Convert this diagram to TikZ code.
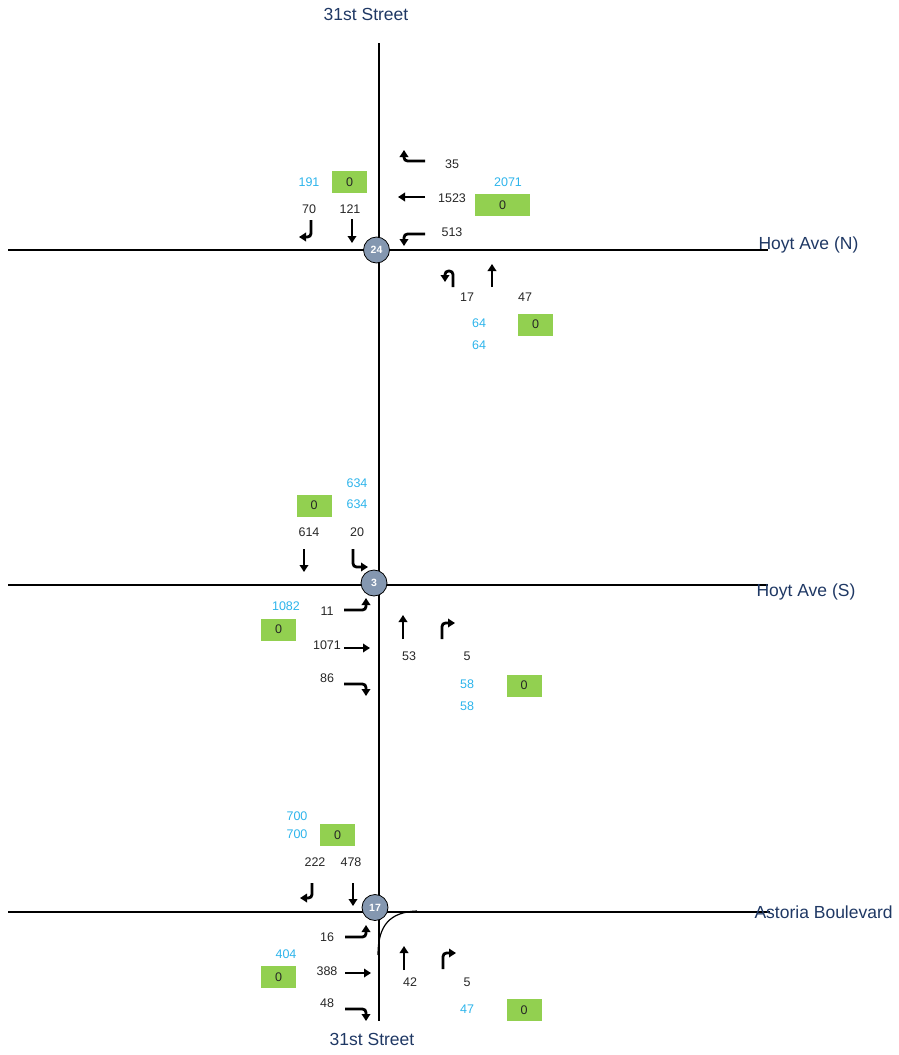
\documentclass[tikz,border=0pt]{standalone}
\usepackage{fontspec}
\setmainfont{Liberation Sans}
\usepackage{tikz}
\usetikzlibrary{arrows.meta}

\definecolor{roadblue}{RGB}{31,56,100}
\definecolor{volblue}{RGB}{45,180,235}
\definecolor{boxgreen}{RGB}{146,208,80}
\definecolor{juncgray}{RGB}{132,151,176}
\definecolor{cntgray}{RGB}{38,38,38}

\begin{document}
\begin{tikzpicture}[x=1pt, y=-1pt,
		road/.style={line width=1.6pt},
		junc/.style={circle, draw=black, line width=0.8pt, fill=juncgray, minimum size=26pt, inner sep=0pt, text=white, font=\bfseries\fontsize{10.5}{10.5}\selectfont},
		street/.style={text=roadblue, font=\fontsize{17.5}{17.5}\selectfont},
		cnt/.style={text=cntgray, font=\fontsize{12.5}{12.5}\selectfont},
		tot/.style={text=volblue, font=\fontsize{12.5}{12.5}\selectfont},
		zero/.style={fill=boxgreen, minimum width=35pt, minimum height=22pt, inner sep=0pt, text=cntgray, font=\fontsize{12.5}{12.5}\selectfont},
		mv/.style={line width=2.8pt, rounded corners=3.5pt, -{Triangle[length=7pt, width=8.5pt]}}]

		\useasboundingbox (0, 0) rectangle (898, 1055);

		% Roads
		\coordinate (T) at (379, 43);
		\coordinate (B) at (379, 1021);
		\draw[road] (T) -- (B);
		\foreach \y/\e in {250/768, 585/768, 912/770} {
				\draw[road] (8, \y) -- (\e, \y);
			}

		% Corner curve at Astoria Boulevard
		\draw[line width=1.2pt] (378, 955) .. controls (378, 925) and (390, 912) .. (417, 911);

		% Junctions
		\node[junc] (J24) at (376.5, 250) {24};
		\node[junc] (J3) at (374, 583) {3};
		\node[junc] (J17) at (375, 907.5) {17};

		% Street names
		\node[street] (StTop) at (366, 14) {31st Street};
		\node[street] (StBot) at (372, 1039) {31st Street};
		\node[street, anchor=west] (HoytN) at (755, 245) {Hoyt Ave (N)};
		\node[street, anchor=west] (HoytS) at (753, 592) {Hoyt Ave (S)};
		\node[street, anchor=west] (Astoria) at (751, 912) {Astoria Boulevard};

		% --- Hoyt Ave (N) ---

		% Southbound
		\node[tot] (nSBt) at (309, 182) {191};
		\node[zero] (nSBz) at (349.5, 182) {0};
		\node[cnt] (nSBr) at (309, 209) {70};
		\node[cnt] (nSBs) at (350, 209) {121};
		\draw[mv] (311, 220) -- (311, 237) -- (299, 237);
		\draw[mv] (352, 219) -- (352, 243);

		% Westbound
		\node[cnt] (nWBr) at (452, 164) {35};
		\node[cnt] (nWBs) at (452, 198) {1523};
		\node[cnt] (nWBl) at (452, 232) {513};
		\node[tot] (nWBt) at (508, 182) {2071};
		\node[zero, minimum width=55pt] (nWBz) at (502.5, 205) {0};
		\draw[mv] (425, 161) -- (404, 161) -- (404, 150);
		\draw[mv] (425, 197) -- (398, 197);
		\draw[mv] (425, 234) -- (404, 234) -- (404, 246);

		% Northbound
		\draw[mv] (453, 287) -- (453, 271) -- (445, 271) -- (445, 282);
		\draw[mv] (492, 287) -- (492, 264);
		\node[cnt] (nNBl) at (467, 297) {17};
		\node[cnt] (nNBs) at (525, 297) {47};
		\node[tot] (nNBt) at (479, 323) {64};
		\node[tot] (nNBo) at (479, 345) {64};
		\node[zero] (nNBz) at (535.5, 324.5) {0};

		% --- Hoyt Ave (S) ---

		% Southbound
		\node[tot] (sSBt) at (357, 483) {634};
		\node[tot] (sSBo) at (357, 504) {634};
		\node[zero] (sSBz) at (314, 505.5) {0};
		\node[cnt] (sSBs) at (309, 532) {614};
		\node[cnt] (sSBl) at (357, 532) {20};
		\draw[mv] (304, 549) -- (304, 572);
		\draw[mv] (353, 549) -- (353, 567) -- (368, 567);

		% Eastbound
		\node[tot] (sEBt) at (286, 606) {1082};
		\node[zero] (sEBz) at (278.5, 629.5) {0};
		\node[cnt] (sEBl) at (327, 611) {11};
		\node[cnt] (sEBs) at (327, 645) {1071};
		\node[cnt] (sEBr) at (327, 678) {86};
		\draw[mv] (344, 610) -- (366, 610) -- (366, 598);
		\draw[mv] (344, 648) -- (370, 648);
		\draw[mv] (344, 684) -- (366, 684) -- (366, 696);

		% Northbound
		\draw[mv] (403, 639) -- (403, 615);
		\draw[mv] (442, 639) -- (442, 623) -- (455, 623);
		\node[cnt] (sNBs) at (409, 656) {53};
		\node[cnt] (sNBr) at (467, 656) {5};
		\node[tot] (sNBt) at (467, 684) {58};
		\node[tot] (sNBo) at (467, 706) {58};
		\node[zero] (sNBz) at (524, 685.5) {0};

		% --- Astoria Boulevard ---

		% Southbound
		\node[tot] (aSBt) at (297, 816) {700};
		\node[tot] (aSBo) at (297, 834) {700};
		\node[zero] (aSBz) at (337.5, 835) {0};
		\node[cnt] (aSBr) at (315, 862) {222};
		\node[cnt] (aSBs) at (351, 862) {478};
		\draw[mv] (312, 883) -- (312, 898) -- (300, 898);
		\draw[mv] (353, 883) -- (353, 906);

		% Eastbound
		\node[tot] (aEBt) at (286, 954) {404};
		\node[zero] (aEBz) at (278.5, 977) {0};
		\node[cnt] (aEBl) at (327, 937) {16};
		\node[cnt] (aEBs) at (327, 971) {388};
		\node[cnt] (aEBr) at (327, 1003) {48};
		\draw[mv] (345, 937) -- (366, 937) -- (366, 925);
		\draw[mv] (345, 973) -- (371, 973);
		\draw[mv] (345, 1009) -- (366, 1009) -- (366, 1021);

		% Northbound
		\draw[mv] (404, 970) -- (404, 946);
		\draw[mv] (443, 969) -- (443, 953) -- (456, 953);
		\node[cnt] (aNBs) at (410, 982) {42};
		\node[cnt] (aNBr) at (467, 982) {5};
		\node[tot] (aNBt) at (467, 1009) {47};
		\node[zero] (aNBz) at (524, 1010) {0};

	\end{tikzpicture}
\end{document}
